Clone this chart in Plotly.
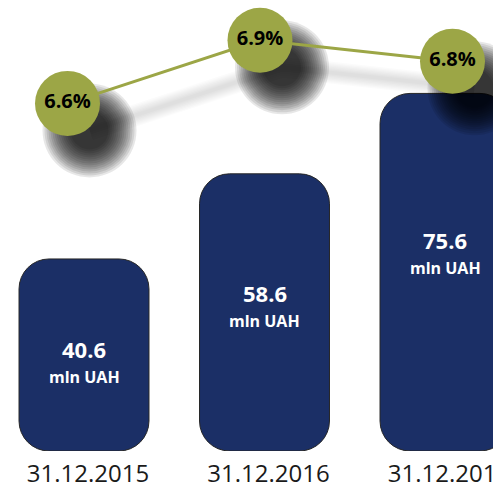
import numpy as np
import plotly.graph_objects as go

# Portfolio volume (mln UAH) and its share (%) at year end
dates = ["31.12.2015", "31.12.2016", "31.12.2017"]
volumes = [40.6, 58.6, 75.6]
shares = [6.6, 6.9, 6.8]
unit_label = "mln UAH"

NAVY = "#1b2f66"
OLIVE = "#9ca646"
FONT = "Open Sans"

W, H = 493, 488
xs = list(range(len(dates)))

px_x = 180.5          # pixels per category on the bar axis
px_y = 4.73           # pixels per mln UAH
lx_px = 192.5         # pixels per category on the line axis
ly_px = 210.3         # pixels per percentage point

fig = go.Figure()

# Rounded bars (an explicit base makes plotly round both ends)
fig.add_trace(go.Bar(x=xs, y=volumes, base=[0] * len(volumes), width=0.72,
                     marker=dict(color=NAVY, cornerradius=30,
                                 line=dict(color="#262626", width=1)),
                     hoverinfo="skip", showlegend=False))

# value labels inside the bars
for i, v in enumerate(volumes):
    ly = 0.66 * v - 8.2
    fig.add_annotation(x=i, y=ly, xref="x", yref="y", text=f"<b>{v}</b>",
                       showarrow=False, yshift=14,
                       font=dict(family=FONT, size=22, color="white"))
    fig.add_annotation(x=i, y=ly, xref="x", yref="y", text=f"<b>{unit_label}</b>",
                       showarrow=False, yshift=-14,
                       font=dict(family=FONT, size=16, color="white"))

# --- share line with soft drop shadows
sx, sy = 22 / lx_px, 27 / ly_px   # shadow offset in data units of the line axes
shx = [x + sx for x in xs]
shy = [s - sy for s in shares]

for wdt in np.linspace(22, 4, 8):
    fig.add_trace(go.Scatter(x=shx, y=shy, mode="lines", xaxis="x2", yaxis="y2",
                             line=dict(color="rgba(0,0,0,0.014)", width=float(wdt)),
                             hoverinfo="skip", showlegend=False))

for size in np.linspace(94, 38, 15):
    fig.add_trace(go.Scatter(x=shx, y=shy, mode="markers", xaxis="x2", yaxis="y2",
                             marker=dict(size=float(size), color="rgba(0,0,0,0.095)",
                                         line=dict(width=0)),
                             hoverinfo="skip", showlegend=False))

fig.add_trace(go.Scatter(x=xs, y=shares, mode="lines+markers+text", xaxis="x2", yaxis="y2",
                         line=dict(color=OLIVE, width=3),
                         marker=dict(size=65, color=OLIVE, line=dict(width=0)),
                         text=[f"<b>{s}%</b>" for s in shares], textposition="middle center",
                         textfont=dict(family=FONT, size=20, color="black"),
                         hoverinfo="skip", showlegend=False))

plot_h = H - 37
fig.update_layout(
    width=W, height=H,
    margin=dict(l=0, r=0, t=0, b=37),
    paper_bgcolor="white", plot_bgcolor="white",
    xaxis=dict(range=[-84 / px_x, (W - 84) / px_x], tickvals=xs, ticktext=dates,
               showgrid=False, zeroline=False, showline=False, ticks="",
               tickfont=dict(family=FONT, size=24, color="#1a1a1a"),
               ticklabelstandoff=6, ticklabelshift=4, ticklabeloverflow="allow",
               automargin=False),
    yaxis=dict(range=[0, plot_h / px_y], visible=False, automargin=False),
    xaxis2=dict(overlaying="x", range=[-67.5 / lx_px, (W - 67.5) / lx_px], visible=False),
    yaxis2=dict(overlaying="y", range=[7.0917 - plot_h / ly_px, 7.0917], visible=False),
)

fig.write_html("out.html")
